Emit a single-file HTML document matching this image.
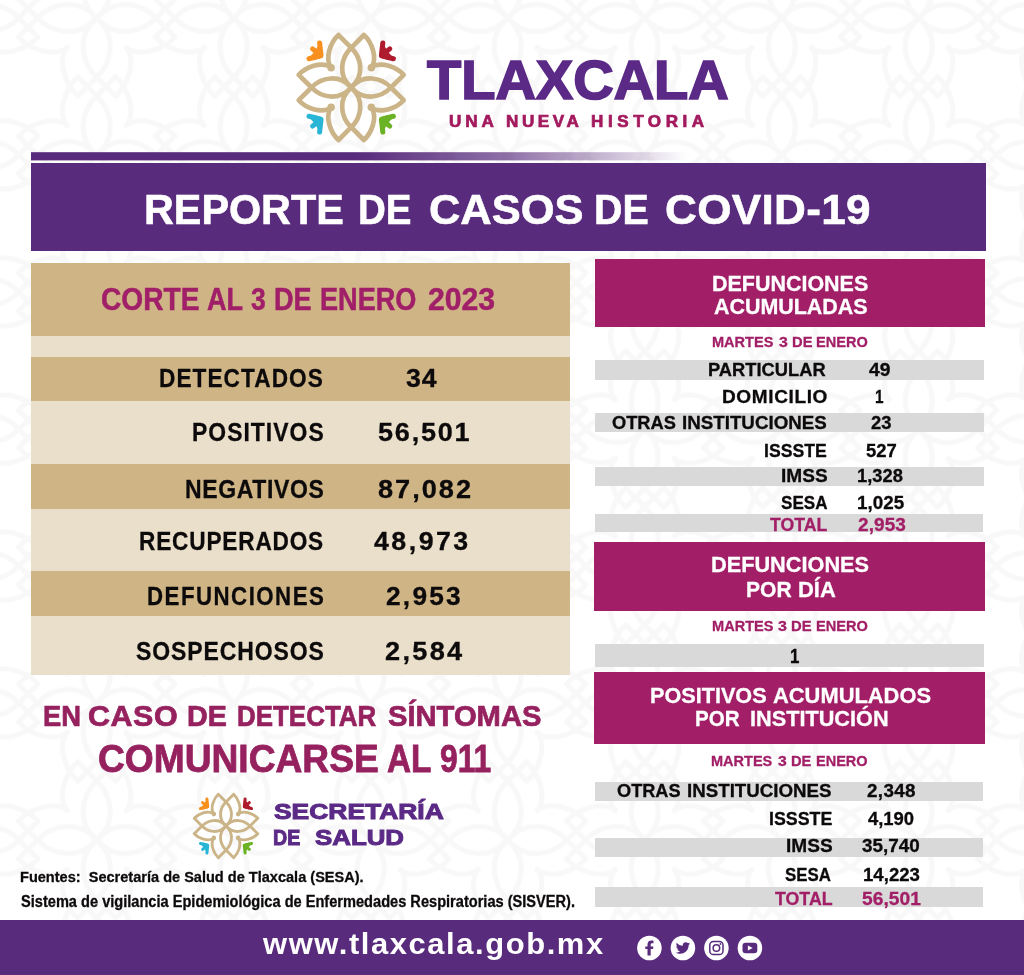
<!DOCTYPE html>
<html lang="es"><head><meta charset="utf-8"><title>Reporte de casos de COVID-19 - Tlaxcala</title>
<style>
html,body{margin:0;padding:0;}
body{width:1024px;height:975px;position:relative;overflow:hidden;background:#fff;font-family:"Liberation Sans", sans-serif;}
.r{position:absolute;}
.t{position:absolute;white-space:nowrap;font-weight:bold;transform-origin:0 0;display:block;}
svg{position:absolute;overflow:visible;}
</style></head><body>
<svg width="1024" height="975" viewBox="0 0 1024 975" style="left:0;top:0">
<defs><pattern id="bgp" patternUnits="userSpaceOnUse" x="28.20" y="-50.50" width="137.0" height="137.0">
<g transform="translate(68.50,68.50) scale(1.49)">
<g fill="none" stroke="#f8f8f8" stroke-width="3.4" stroke-linejoin="miter" stroke-linecap="round">
<path transform="rotate(0)" d="M-12.7,-52.5 L0,-39.7 C10,-30.2 14,-12 0,0 M-12.7,-52.5 C-20,-46 -27,-30 -20.1,-19.7"/>
<path transform="rotate(0) scale(-1,1)" d="M-12.7,-52.5 L0,-39.7 C10,-30.2 14,-12 0,0 M-12.7,-52.5 C-20,-46 -27,-30 -20.1,-19.7"/>
<path transform="rotate(90)" d="M-12.7,-52.5 L0,-39.7 C10,-30.2 14,-12 0,0 M-12.7,-52.5 C-20,-46 -27,-30 -20.1,-19.7"/>
<path transform="rotate(90) scale(-1,1)" d="M-12.7,-52.5 L0,-39.7 C10,-30.2 14,-12 0,0 M-12.7,-52.5 C-20,-46 -27,-30 -20.1,-19.7"/>
<path transform="rotate(180)" d="M-12.7,-52.5 L0,-39.7 C10,-30.2 14,-12 0,0 M-12.7,-52.5 C-20,-46 -27,-30 -20.1,-19.7"/>
<path transform="rotate(180) scale(-1,1)" d="M-12.7,-52.5 L0,-39.7 C10,-30.2 14,-12 0,0 M-12.7,-52.5 C-20,-46 -27,-30 -20.1,-19.7"/>
<path transform="rotate(270)" d="M-12.7,-52.5 L0,-39.7 C10,-30.2 14,-12 0,0 M-12.7,-52.5 C-20,-46 -27,-30 -20.1,-19.7"/>
<path transform="rotate(270) scale(-1,1)" d="M-12.7,-52.5 L0,-39.7 C10,-30.2 14,-12 0,0 M-12.7,-52.5 C-20,-46 -27,-30 -20.1,-19.7"/>
</g>
</g>
<g transform="translate(-68.50,68.50) scale(1.49)">
<g fill="none" stroke="#f8f8f8" stroke-width="3.4" stroke-linejoin="miter" stroke-linecap="round">
<path transform="rotate(0)" d="M-12.7,-52.5 L0,-39.7 C10,-30.2 14,-12 0,0 M-12.7,-52.5 C-20,-46 -27,-30 -20.1,-19.7"/>
<path transform="rotate(0) scale(-1,1)" d="M-12.7,-52.5 L0,-39.7 C10,-30.2 14,-12 0,0 M-12.7,-52.5 C-20,-46 -27,-30 -20.1,-19.7"/>
<path transform="rotate(90)" d="M-12.7,-52.5 L0,-39.7 C10,-30.2 14,-12 0,0 M-12.7,-52.5 C-20,-46 -27,-30 -20.1,-19.7"/>
<path transform="rotate(90) scale(-1,1)" d="M-12.7,-52.5 L0,-39.7 C10,-30.2 14,-12 0,0 M-12.7,-52.5 C-20,-46 -27,-30 -20.1,-19.7"/>
<path transform="rotate(180)" d="M-12.7,-52.5 L0,-39.7 C10,-30.2 14,-12 0,0 M-12.7,-52.5 C-20,-46 -27,-30 -20.1,-19.7"/>
<path transform="rotate(180) scale(-1,1)" d="M-12.7,-52.5 L0,-39.7 C10,-30.2 14,-12 0,0 M-12.7,-52.5 C-20,-46 -27,-30 -20.1,-19.7"/>
<path transform="rotate(270)" d="M-12.7,-52.5 L0,-39.7 C10,-30.2 14,-12 0,0 M-12.7,-52.5 C-20,-46 -27,-30 -20.1,-19.7"/>
<path transform="rotate(270) scale(-1,1)" d="M-12.7,-52.5 L0,-39.7 C10,-30.2 14,-12 0,0 M-12.7,-52.5 C-20,-46 -27,-30 -20.1,-19.7"/>
</g>
</g>
<g transform="translate(205.50,68.50) scale(1.49)">
<g fill="none" stroke="#f8f8f8" stroke-width="3.4" stroke-linejoin="miter" stroke-linecap="round">
<path transform="rotate(0)" d="M-12.7,-52.5 L0,-39.7 C10,-30.2 14,-12 0,0 M-12.7,-52.5 C-20,-46 -27,-30 -20.1,-19.7"/>
<path transform="rotate(0) scale(-1,1)" d="M-12.7,-52.5 L0,-39.7 C10,-30.2 14,-12 0,0 M-12.7,-52.5 C-20,-46 -27,-30 -20.1,-19.7"/>
<path transform="rotate(90)" d="M-12.7,-52.5 L0,-39.7 C10,-30.2 14,-12 0,0 M-12.7,-52.5 C-20,-46 -27,-30 -20.1,-19.7"/>
<path transform="rotate(90) scale(-1,1)" d="M-12.7,-52.5 L0,-39.7 C10,-30.2 14,-12 0,0 M-12.7,-52.5 C-20,-46 -27,-30 -20.1,-19.7"/>
<path transform="rotate(180)" d="M-12.7,-52.5 L0,-39.7 C10,-30.2 14,-12 0,0 M-12.7,-52.5 C-20,-46 -27,-30 -20.1,-19.7"/>
<path transform="rotate(180) scale(-1,1)" d="M-12.7,-52.5 L0,-39.7 C10,-30.2 14,-12 0,0 M-12.7,-52.5 C-20,-46 -27,-30 -20.1,-19.7"/>
<path transform="rotate(270)" d="M-12.7,-52.5 L0,-39.7 C10,-30.2 14,-12 0,0 M-12.7,-52.5 C-20,-46 -27,-30 -20.1,-19.7"/>
<path transform="rotate(270) scale(-1,1)" d="M-12.7,-52.5 L0,-39.7 C10,-30.2 14,-12 0,0 M-12.7,-52.5 C-20,-46 -27,-30 -20.1,-19.7"/>
</g>
</g>
<g transform="translate(68.50,-68.50) scale(1.49)">
<g fill="none" stroke="#f8f8f8" stroke-width="3.4" stroke-linejoin="miter" stroke-linecap="round">
<path transform="rotate(0)" d="M-12.7,-52.5 L0,-39.7 C10,-30.2 14,-12 0,0 M-12.7,-52.5 C-20,-46 -27,-30 -20.1,-19.7"/>
<path transform="rotate(0) scale(-1,1)" d="M-12.7,-52.5 L0,-39.7 C10,-30.2 14,-12 0,0 M-12.7,-52.5 C-20,-46 -27,-30 -20.1,-19.7"/>
<path transform="rotate(90)" d="M-12.7,-52.5 L0,-39.7 C10,-30.2 14,-12 0,0 M-12.7,-52.5 C-20,-46 -27,-30 -20.1,-19.7"/>
<path transform="rotate(90) scale(-1,1)" d="M-12.7,-52.5 L0,-39.7 C10,-30.2 14,-12 0,0 M-12.7,-52.5 C-20,-46 -27,-30 -20.1,-19.7"/>
<path transform="rotate(180)" d="M-12.7,-52.5 L0,-39.7 C10,-30.2 14,-12 0,0 M-12.7,-52.5 C-20,-46 -27,-30 -20.1,-19.7"/>
<path transform="rotate(180) scale(-1,1)" d="M-12.7,-52.5 L0,-39.7 C10,-30.2 14,-12 0,0 M-12.7,-52.5 C-20,-46 -27,-30 -20.1,-19.7"/>
<path transform="rotate(270)" d="M-12.7,-52.5 L0,-39.7 C10,-30.2 14,-12 0,0 M-12.7,-52.5 C-20,-46 -27,-30 -20.1,-19.7"/>
<path transform="rotate(270) scale(-1,1)" d="M-12.7,-52.5 L0,-39.7 C10,-30.2 14,-12 0,0 M-12.7,-52.5 C-20,-46 -27,-30 -20.1,-19.7"/>
</g>
</g>
<g transform="translate(68.50,205.50) scale(1.49)">
<g fill="none" stroke="#f8f8f8" stroke-width="3.4" stroke-linejoin="miter" stroke-linecap="round">
<path transform="rotate(0)" d="M-12.7,-52.5 L0,-39.7 C10,-30.2 14,-12 0,0 M-12.7,-52.5 C-20,-46 -27,-30 -20.1,-19.7"/>
<path transform="rotate(0) scale(-1,1)" d="M-12.7,-52.5 L0,-39.7 C10,-30.2 14,-12 0,0 M-12.7,-52.5 C-20,-46 -27,-30 -20.1,-19.7"/>
<path transform="rotate(90)" d="M-12.7,-52.5 L0,-39.7 C10,-30.2 14,-12 0,0 M-12.7,-52.5 C-20,-46 -27,-30 -20.1,-19.7"/>
<path transform="rotate(90) scale(-1,1)" d="M-12.7,-52.5 L0,-39.7 C10,-30.2 14,-12 0,0 M-12.7,-52.5 C-20,-46 -27,-30 -20.1,-19.7"/>
<path transform="rotate(180)" d="M-12.7,-52.5 L0,-39.7 C10,-30.2 14,-12 0,0 M-12.7,-52.5 C-20,-46 -27,-30 -20.1,-19.7"/>
<path transform="rotate(180) scale(-1,1)" d="M-12.7,-52.5 L0,-39.7 C10,-30.2 14,-12 0,0 M-12.7,-52.5 C-20,-46 -27,-30 -20.1,-19.7"/>
<path transform="rotate(270)" d="M-12.7,-52.5 L0,-39.7 C10,-30.2 14,-12 0,0 M-12.7,-52.5 C-20,-46 -27,-30 -20.1,-19.7"/>
<path transform="rotate(270) scale(-1,1)" d="M-12.7,-52.5 L0,-39.7 C10,-30.2 14,-12 0,0 M-12.7,-52.5 C-20,-46 -27,-30 -20.1,-19.7"/>
</g>
</g>
</pattern></defs>
<rect x="0" y="0" width="1024" height="975" fill="url(#bgp)"/>
<defs><linearGradient id="lg" gradientUnits="userSpaceOnUse" x1="355" y1="0" x2="688" y2="0"><stop offset="0" stop-color="#582b7c"/><stop offset="0.45" stop-color="#582b7c" stop-opacity="0.68"/><stop offset="0.78" stop-color="#582b7c" stop-opacity="0.3"/><stop offset="1" stop-color="#582b7c" stop-opacity="0"/></linearGradient></defs>
<rect x="31" y="152.2" width="660" height="8.2" fill="url(#lg)"/>
<g transform="translate(351.2,87.5) scale(1.0)">
<g fill="none" stroke="#cbb487" stroke-width="4.7" stroke-linejoin="miter" stroke-linecap="round">
<path transform="rotate(0)" d="M-12.7,-52.5 L0,-39.7 C10,-30.2 14,-12 0,0 M-12.7,-52.5 C-20,-46 -27,-30 -20.1,-19.7"/>
<path transform="rotate(0) scale(-1,1)" d="M-12.7,-52.5 L0,-39.7 C10,-30.2 14,-12 0,0 M-12.7,-52.5 C-20,-46 -27,-30 -20.1,-19.7"/>
<path transform="rotate(90)" d="M-12.7,-52.5 L0,-39.7 C10,-30.2 14,-12 0,0 M-12.7,-52.5 C-20,-46 -27,-30 -20.1,-19.7"/>
<path transform="rotate(90) scale(-1,1)" d="M-12.7,-52.5 L0,-39.7 C10,-30.2 14,-12 0,0 M-12.7,-52.5 C-20,-46 -27,-30 -20.1,-19.7"/>
<path transform="rotate(180)" d="M-12.7,-52.5 L0,-39.7 C10,-30.2 14,-12 0,0 M-12.7,-52.5 C-20,-46 -27,-30 -20.1,-19.7"/>
<path transform="rotate(180) scale(-1,1)" d="M-12.7,-52.5 L0,-39.7 C10,-30.2 14,-12 0,0 M-12.7,-52.5 C-20,-46 -27,-30 -20.1,-19.7"/>
<path transform="rotate(270)" d="M-12.7,-52.5 L0,-39.7 C10,-30.2 14,-12 0,0 M-12.7,-52.5 C-20,-46 -27,-30 -20.1,-19.7"/>
<path transform="rotate(270) scale(-1,1)" d="M-12.7,-52.5 L0,-39.7 C10,-30.2 14,-12 0,0 M-12.7,-52.5 C-20,-46 -27,-30 -20.1,-19.7"/>
</g>
<circle cx="-20.1" cy="-19.7" r="3.8" fill="#cbb487"/>
<circle cx="20.1" cy="-19.7" r="3.8" fill="#cbb487"/>
<circle cx="-20.1" cy="19.7" r="3.8" fill="#cbb487"/>
<circle cx="20.1" cy="19.7" r="3.8" fill="#cbb487"/>
<g transform="scale(1,1)" stroke="#f7901e" fill="#f7901e" stroke-linecap="round" stroke-linejoin="round"><path d="M-30.2,-32.2 L-31.6,-44.6 M-31,-32.5 L-38.6,-38.6 M-30.6,-31.6 L-42.2,-28.8" stroke-width="5" fill="none"/><path d="M-29.4,-30.6 L-32.5,-41 L-35.5,-35.5 L-40.5,-30 L-38,-28.2 Z" stroke-width="2"/></g>
<g transform="scale(-1,1)" stroke="#ae1c2e" fill="#ae1c2e" stroke-linecap="round" stroke-linejoin="round"><path d="M-30.2,-32.2 L-31.6,-44.6 M-31,-32.5 L-38.6,-38.6 M-30.6,-31.6 L-42.2,-28.8" stroke-width="5" fill="none"/><path d="M-29.4,-30.6 L-32.5,-41 L-35.5,-35.5 L-40.5,-30 L-38,-28.2 Z" stroke-width="2"/></g>
<g transform="scale(1,-1)" stroke="#29b6d6" fill="#29b6d6" stroke-linecap="round" stroke-linejoin="round"><path d="M-30.2,-32.2 L-31.6,-44.6 M-31,-32.5 L-38.6,-38.6 M-30.6,-31.6 L-42.2,-28.8" stroke-width="5" fill="none"/><path d="M-29.4,-30.6 L-32.5,-41 L-35.5,-35.5 L-40.5,-30 L-38,-28.2 Z" stroke-width="2"/></g>
<g transform="scale(-1,-1)" stroke="#6bb324" fill="#6bb324" stroke-linecap="round" stroke-linejoin="round"><path d="M-30.2,-32.2 L-31.6,-44.6 M-31,-32.5 L-38.6,-38.6 M-30.6,-31.6 L-42.2,-28.8" stroke-width="5" fill="none"/><path d="M-29.4,-30.6 L-32.5,-41 L-35.5,-35.5 L-40.5,-30 L-38,-28.2 Z" stroke-width="2"/></g>
</g>
<g transform="translate(226,826) scale(0.605)">
<g fill="none" stroke="#cbb487" stroke-width="4.7" stroke-linejoin="miter" stroke-linecap="round">
<path transform="rotate(0)" d="M-12.7,-52.5 L0,-39.7 C10,-30.2 14,-12 0,0 M-12.7,-52.5 C-20,-46 -27,-30 -20.1,-19.7"/>
<path transform="rotate(0) scale(-1,1)" d="M-12.7,-52.5 L0,-39.7 C10,-30.2 14,-12 0,0 M-12.7,-52.5 C-20,-46 -27,-30 -20.1,-19.7"/>
<path transform="rotate(90)" d="M-12.7,-52.5 L0,-39.7 C10,-30.2 14,-12 0,0 M-12.7,-52.5 C-20,-46 -27,-30 -20.1,-19.7"/>
<path transform="rotate(90) scale(-1,1)" d="M-12.7,-52.5 L0,-39.7 C10,-30.2 14,-12 0,0 M-12.7,-52.5 C-20,-46 -27,-30 -20.1,-19.7"/>
<path transform="rotate(180)" d="M-12.7,-52.5 L0,-39.7 C10,-30.2 14,-12 0,0 M-12.7,-52.5 C-20,-46 -27,-30 -20.1,-19.7"/>
<path transform="rotate(180) scale(-1,1)" d="M-12.7,-52.5 L0,-39.7 C10,-30.2 14,-12 0,0 M-12.7,-52.5 C-20,-46 -27,-30 -20.1,-19.7"/>
<path transform="rotate(270)" d="M-12.7,-52.5 L0,-39.7 C10,-30.2 14,-12 0,0 M-12.7,-52.5 C-20,-46 -27,-30 -20.1,-19.7"/>
<path transform="rotate(270) scale(-1,1)" d="M-12.7,-52.5 L0,-39.7 C10,-30.2 14,-12 0,0 M-12.7,-52.5 C-20,-46 -27,-30 -20.1,-19.7"/>
</g>
<circle cx="-20.1" cy="-19.7" r="3.8" fill="#cbb487"/>
<circle cx="20.1" cy="-19.7" r="3.8" fill="#cbb487"/>
<circle cx="-20.1" cy="19.7" r="3.8" fill="#cbb487"/>
<circle cx="20.1" cy="19.7" r="3.8" fill="#cbb487"/>
<g transform="scale(1,1)" stroke="#f7901e" fill="#f7901e" stroke-linecap="round" stroke-linejoin="round"><path d="M-30.2,-32.2 L-31.6,-44.6 M-31,-32.5 L-38.6,-38.6 M-30.6,-31.6 L-42.2,-28.8" stroke-width="5" fill="none"/><path d="M-29.4,-30.6 L-32.5,-41 L-35.5,-35.5 L-40.5,-30 L-38,-28.2 Z" stroke-width="2"/></g>
<g transform="scale(-1,1)" stroke="#ae1c2e" fill="#ae1c2e" stroke-linecap="round" stroke-linejoin="round"><path d="M-30.2,-32.2 L-31.6,-44.6 M-31,-32.5 L-38.6,-38.6 M-30.6,-31.6 L-42.2,-28.8" stroke-width="5" fill="none"/><path d="M-29.4,-30.6 L-32.5,-41 L-35.5,-35.5 L-40.5,-30 L-38,-28.2 Z" stroke-width="2"/></g>
<g transform="scale(1,-1)" stroke="#29b6d6" fill="#29b6d6" stroke-linecap="round" stroke-linejoin="round"><path d="M-30.2,-32.2 L-31.6,-44.6 M-31,-32.5 L-38.6,-38.6 M-30.6,-31.6 L-42.2,-28.8" stroke-width="5" fill="none"/><path d="M-29.4,-30.6 L-32.5,-41 L-35.5,-35.5 L-40.5,-30 L-38,-28.2 Z" stroke-width="2"/></g>
<g transform="scale(-1,-1)" stroke="#6bb324" fill="#6bb324" stroke-linecap="round" stroke-linejoin="round"><path d="M-30.2,-32.2 L-31.6,-44.6 M-31,-32.5 L-38.6,-38.6 M-30.6,-31.6 L-42.2,-28.8" stroke-width="5" fill="none"/><path d="M-29.4,-30.6 L-32.5,-41 L-35.5,-35.5 L-40.5,-30 L-38,-28.2 Z" stroke-width="2"/></g>
</g>
</svg>
<div class="r" style="left:31px;top:163px;width:954.60px;height:88.40px;background:#582b7c"></div>
<div class="r" style="left:31px;top:263px;width:538.50px;height:72.50px;background:#cfb586"></div>
<div class="r" style="left:31px;top:335.5px;width:538.50px;height:21.50px;background:#eadfca"></div>
<div class="r" style="left:31px;top:357px;width:538.50px;height:44.40px;background:#cfb586"></div>
<div class="r" style="left:31px;top:401.4px;width:538.50px;height:62.60px;background:#eadfca"></div>
<div class="r" style="left:31px;top:464px;width:538.50px;height:44.50px;background:#cfb586"></div>
<div class="r" style="left:31px;top:508.5px;width:538.50px;height:62.30px;background:#eadfca"></div>
<div class="r" style="left:31px;top:570.8px;width:538.50px;height:44.80px;background:#cfb586"></div>
<div class="r" style="left:31px;top:615.6px;width:538.50px;height:59.40px;background:#eadfca"></div>
<div class="r" style="left:595px;top:258.8px;width:390.40px;height:67.80px;background:#a21f67"></div>
<div class="r" style="left:595.2px;top:360.4px;width:389.10px;height:19.30px;background:#d9d9d9"></div>
<div class="r" style="left:595.2px;top:413px;width:389.10px;height:19.40px;background:#d9d9d9"></div>
<div class="r" style="left:595.2px;top:466.8px;width:389.10px;height:18.90px;background:#d9d9d9"></div>
<div class="r" style="left:595.2px;top:513.5px;width:388.20px;height:18.70px;background:#d9d9d9"></div>
<div class="r" style="left:593.6px;top:541.5px;width:391.80px;height:69.70px;background:#a21f67"></div>
<div class="r" style="left:595.2px;top:644.4px;width:388.80px;height:22.60px;background:#d9d9d9"></div>
<div class="r" style="left:593.6px;top:671.8px;width:391.80px;height:72.50px;background:#a21f67"></div>
<div class="r" style="left:595.2px;top:781.9px;width:388.20px;height:18.70px;background:#d9d9d9"></div>
<div class="r" style="left:595.2px;top:837.5px;width:388.20px;height:19.50px;background:#d9d9d9"></div>
<div class="r" style="left:595.2px;top:887.3px;width:388.20px;height:20.00px;background:#d9d9d9"></div>
<div class="r" style="left:0px;top:919.5px;width:1024.00px;height:55.50px;background:#582b7c"></div>
<span class="t" style="left:426.95px;top:53.23px;font-size:54.71px;line-height:54.71px;color:#5b2a86;transform:scaleX(1.0236);-webkit-text-stroke:1.7px #5b2a86;">TLAXCALA</span>
<div class="g"><span class="t" style="left:449.05px;top:113.14px;font-size:16.43px;line-height:16.43px;color:#a31a5e;transform:scaleX(1.0400);letter-spacing:3.787px;-webkit-text-stroke:0.7px #a31a5e;">UNA</span> <span class="t" style="left:506.01px;top:113.14px;font-size:16.43px;line-height:16.43px;color:#a31a5e;transform:scaleX(1.0400);letter-spacing:3.419px;-webkit-text-stroke:0.7px #a31a5e;">NUEVA</span> <span class="t" style="left:591.31px;top:113.14px;font-size:16.43px;line-height:16.43px;color:#a31a5e;transform:scaleX(1.0400);letter-spacing:4.378px;-webkit-text-stroke:0.7px #a31a5e;">HISTORIA</span></div>
<div class="g"><span class="t" style="left:143.65px;top:188.88px;font-size:42.43px;line-height:42.43px;color:#ffffff;transform:scaleX(0.9742);-webkit-text-stroke:0.6px #ffffff;">REPORTE</span> <span class="t" style="left:358.38px;top:188.88px;font-size:42.43px;line-height:42.43px;color:#ffffff;transform:scaleX(0.9079);-webkit-text-stroke:0.6px #ffffff;">DE</span> <span class="t" style="left:429.08px;top:188.88px;font-size:42.43px;line-height:42.43px;color:#ffffff;transform:scaleX(1.0241);-webkit-text-stroke:0.6px #ffffff;">CASOS</span> <span class="t" style="left:594.24px;top:188.88px;font-size:42.43px;line-height:42.43px;color:#ffffff;transform:scaleX(0.9276);-webkit-text-stroke:0.6px #ffffff;">DE</span> <span class="t" style="left:665.06px;top:188.88px;font-size:42.43px;line-height:42.43px;color:#ffffff;transform:scaleX(1.0400);letter-spacing:0.293px;-webkit-text-stroke:0.6px #ffffff;">COVID-19</span></div>
<div class="g"><span class="t" style="left:101.33px;top:284.85px;font-size:30.71px;line-height:30.71px;color:#a01f68;transform:scaleX(0.9162);-webkit-text-stroke:0.5px #a01f68;">CORTE</span> <span class="t" style="left:207.05px;top:284.85px;font-size:30.71px;line-height:30.71px;color:#a01f68;transform:scaleX(0.8812);-webkit-text-stroke:0.5px #a01f68;">AL</span> <span class="t" style="left:251.15px;top:284.85px;font-size:30.71px;line-height:30.71px;color:#a01f68;transform:scaleX(0.8625);-webkit-text-stroke:0.5px #a01f68;">3</span> <span class="t" style="left:273.99px;top:284.85px;font-size:30.71px;line-height:30.71px;color:#a01f68;transform:scaleX(0.8812);-webkit-text-stroke:0.5px #a01f68;">DE</span> <span class="t" style="left:320.19px;top:284.85px;font-size:30.71px;line-height:30.71px;color:#a01f68;transform:scaleX(0.8824);-webkit-text-stroke:0.5px #a01f68;">ENERO</span> <span class="t" style="left:427.57px;top:284.85px;font-size:30.71px;line-height:30.71px;color:#a01f68;transform:scaleX(0.9830);-webkit-text-stroke:0.5px #a01f68;">2023</span></div>
<span class="t" style="left:159.47px;top:365.78px;font-size:25.71px;line-height:25.71px;color:#0d0a0b;transform:scaleX(0.8800);letter-spacing:1.220px;-webkit-text-stroke:0.3px #0d0a0b;">DETECTADOS</span>
<span class="t" style="left:406.45px;top:365.78px;font-size:25.71px;line-height:25.71px;color:#0d0a0b;transform:scaleX(1.0400);letter-spacing:0.897px;-webkit-text-stroke:0.3px #0d0a0b;">34</span>
<span class="t" style="left:191.77px;top:419.24px;font-size:26.00px;line-height:26.00px;color:#0d0a0b;transform:scaleX(0.8800);letter-spacing:1.187px;-webkit-text-stroke:0.3px #0d0a0b;">POSITIVOS</span>
<span class="t" style="left:377.65px;top:419.24px;font-size:26.00px;line-height:26.00px;color:#0d0a0b;transform:scaleX(1.0400);letter-spacing:1.707px;-webkit-text-stroke:0.3px #0d0a0b;">56,501</span>
<span class="t" style="left:184.77px;top:475.52px;font-size:26.14px;line-height:26.14px;color:#0d0a0b;transform:scaleX(0.8800);letter-spacing:0.719px;-webkit-text-stroke:0.3px #0d0a0b;">NEGATIVOS</span>
<span class="t" style="left:377.65px;top:475.52px;font-size:26.14px;line-height:26.14px;color:#0d0a0b;transform:scaleX(1.0400);letter-spacing:1.913px;-webkit-text-stroke:0.3px #0d0a0b;">87,082</span>
<span class="t" style="left:139.07px;top:528.68px;font-size:25.71px;line-height:25.71px;color:#0d0a0b;transform:scaleX(0.8800);letter-spacing:0.939px;-webkit-text-stroke:0.3px #0d0a0b;">RECUPERADOS</span>
<span class="t" style="left:373.75px;top:528.68px;font-size:25.71px;line-height:25.71px;color:#0d0a0b;transform:scaleX(1.0400);letter-spacing:2.394px;-webkit-text-stroke:0.3px #0d0a0b;">48,973</span>
<span class="t" style="left:147.17px;top:583.85px;font-size:25.29px;line-height:25.29px;color:#0d0a0b;transform:scaleX(0.8800);letter-spacing:1.694px;-webkit-text-stroke:0.3px #0d0a0b;">DEFUNCIONES</span>
<span class="t" style="left:386.05px;top:583.85px;font-size:25.29px;line-height:25.29px;color:#0d0a0b;transform:scaleX(1.0400);letter-spacing:2.139px;-webkit-text-stroke:0.3px #0d0a0b;">2,953</span>
<span class="t" style="left:135.65px;top:638.32px;font-size:26.14px;line-height:26.14px;color:#0d0a0b;transform:scaleX(0.8800);letter-spacing:1.025px;-webkit-text-stroke:0.3px #0d0a0b;">SOSPECHOSOS</span>
<span class="t" style="left:384.65px;top:638.32px;font-size:26.14px;line-height:26.14px;color:#0d0a0b;transform:scaleX(1.0400);letter-spacing:2.216px;-webkit-text-stroke:0.3px #0d0a0b;">2,584</span>
<div class="g"><span class="t" style="left:42.72px;top:701.16px;font-size:29.29px;line-height:29.29px;color:#96215f;transform:scaleX(0.9346);-webkit-text-stroke:0.7px #96215f;">EN</span> <span class="t" style="left:87.91px;top:701.16px;font-size:29.29px;line-height:29.29px;color:#96215f;transform:scaleX(1.0400);letter-spacing:0.545px;-webkit-text-stroke:0.7px #96215f;">CASO</span> <span class="t" style="left:186.57px;top:701.16px;font-size:29.29px;line-height:29.29px;color:#96215f;transform:scaleX(0.9787);-webkit-text-stroke:0.7px #96215f;">DE</span> <span class="t" style="left:237.26px;top:701.16px;font-size:29.29px;line-height:29.29px;color:#96215f;transform:scaleX(0.8858);-webkit-text-stroke:0.7px #96215f;">DETECTAR</span> <span class="t" style="left:387.85px;top:701.16px;font-size:29.29px;line-height:29.29px;color:#96215f;transform:scaleX(0.9960);-webkit-text-stroke:0.7px #96215f;">SÍNTOMAS</span></div>
<div class="g"><span class="t" style="left:98.32px;top:741.45px;font-size:37.86px;line-height:37.86px;color:#96215f;transform:scaleX(0.9813);-webkit-text-stroke:0.8px #96215f;">COMUNICARSE</span> <span class="t" style="left:387.20px;top:741.45px;font-size:37.86px;line-height:37.86px;color:#96215f;transform:scaleX(0.8798);-webkit-text-stroke:0.8px #96215f;">AL</span> <span class="t" style="left:439.88px;top:741.45px;font-size:37.86px;line-height:37.86px;color:#96215f;transform:scaleX(0.8400);-webkit-text-stroke:0.8px #96215f;">911</span></div>
<span class="t" style="left:273.50px;top:800.88px;font-size:22.00px;line-height:22.00px;color:#5b2a86;transform:scaleX(1.2008);-webkit-text-stroke:1.0px #5b2a86;">SECRETARÍA</span>
<div class="g"><span class="t" style="left:272.63px;top:827.19px;font-size:22.57px;line-height:22.57px;color:#5b2a86;transform:scaleX(0.8682);-webkit-text-stroke:1.0px #5b2a86;">DE</span> <span class="t" style="left:314.50px;top:827.19px;font-size:22.57px;line-height:22.57px;color:#5b2a86;transform:scaleX(1.1457);-webkit-text-stroke:1.0px #5b2a86;">SALUD</span></div>
<span class="t" style="left:20.00px;top:869.31px;font-size:15.29px;line-height:15.29px;color:#0d0a0b;transform:scaleX(0.9521);-webkit-text-stroke:0.3px #0d0a0b;white-space:pre;">Fuentes:  Secretaría de Salud de Tlaxcala (SESA).</span>
<span class="t" style="left:20.95px;top:893.97px;font-size:15.57px;line-height:15.57px;color:#0d0a0b;transform:scaleX(0.9379);-webkit-text-stroke:0.3px #0d0a0b;">Sistema de vigilancia Epidemiológica de Enfermedades Respiratorias (SISVER).</span>
<span class="t" style="left:263.34px;top:928.70px;font-size:29.76px;line-height:29.76px;color:#ffffff;transform:scaleX(1.0400);letter-spacing:1.512px;">www.tlaxcala.gob.mx</span>
<span class="t" style="left:712.19px;top:272.56px;font-size:22.43px;line-height:22.43px;color:#ffffff;transform:scaleX(0.9572);-webkit-text-stroke:0.3px #ffffff;">DEFUNCIONES</span>
<span class="t" style="left:714.35px;top:296.00px;font-size:22.50px;line-height:22.50px;color:#ffffff;transform:scaleX(0.9527);-webkit-text-stroke:0.3px #ffffff;">ACUMULADAS</span>
<div class="g"><span class="t" style="left:712.19px;top:334.33px;font-size:15.14px;line-height:15.14px;color:#a21f67;transform:scaleX(0.9606);-webkit-text-stroke:0.3px #a21f67;">MARTES</span> <span class="t" style="left:778.65px;top:334.33px;font-size:15.14px;line-height:15.14px;color:#a21f67;transform:scaleX(1.0500);-webkit-text-stroke:0.3px #a21f67;">3</span> <span class="t" style="left:791.78px;top:334.33px;font-size:15.14px;line-height:15.14px;color:#a21f67;transform:scaleX(0.9738);-webkit-text-stroke:0.3px #a21f67;">DE</span> <span class="t" style="left:816.39px;top:334.33px;font-size:15.14px;line-height:15.14px;color:#a21f67;transform:scaleX(0.9619);-webkit-text-stroke:0.3px #a21f67;">ENERO</span></div>
<span class="t" style="left:708.26px;top:361.43px;font-size:18.57px;line-height:18.57px;color:#0d0a0b;transform:scaleX(0.9860);-webkit-text-stroke:0.3px #0d0a0b;">PARTICULAR</span>
<span class="t" style="left:869.45px;top:361.43px;font-size:18.57px;line-height:18.57px;color:#0d0a0b;transform:scaleX(1.0400);letter-spacing:0.061px;-webkit-text-stroke:0.3px #0d0a0b;">49</span>
<span class="t" style="left:721.91px;top:387.67px;font-size:18.29px;line-height:18.29px;color:#0d0a0b;transform:scaleX(1.0400);letter-spacing:0.602px;-webkit-text-stroke:0.3px #0d0a0b;">DOMICILIO</span>
<span class="t" style="left:875.28px;top:387.67px;font-size:18.29px;line-height:18.29px;color:#0d0a0b;transform:scaleX(0.8400);-webkit-text-stroke:0.3px #0d0a0b;">1</span>
<div class="g"><span class="t" style="left:611.85px;top:414.43px;font-size:18.57px;line-height:18.57px;color:#0d0a0b;transform:scaleX(0.9832);-webkit-text-stroke:0.3px #0d0a0b;">OTRAS</span> <span class="t" style="left:681.64px;top:414.43px;font-size:18.57px;line-height:18.57px;color:#0d0a0b;transform:scaleX(1.0101);-webkit-text-stroke:0.3px #0d0a0b;">INSTITUCIONES</span></div>
<span class="t" style="left:870.65px;top:414.29px;font-size:18.86px;line-height:18.86px;color:#0d0a0b;transform:scaleX(0.9766);-webkit-text-stroke:0.3px #0d0a0b;">23</span>
<span class="t" style="left:763.83px;top:441.05px;font-size:19.14px;line-height:19.14px;color:#0d0a0b;transform:scaleX(0.9232);-webkit-text-stroke:0.3px #0d0a0b;">ISSSTE</span>
<span class="t" style="left:865.55px;top:441.05px;font-size:19.14px;line-height:19.14px;color:#0d0a0b;transform:scaleX(0.9657);-webkit-text-stroke:0.3px #0d0a0b;">527</span>
<span class="t" style="left:780.51px;top:467.45px;font-size:18.43px;line-height:18.43px;color:#0d0a0b;transform:scaleX(1.0361);-webkit-text-stroke:0.3px #0d0a0b;">IMSS</span>
<span class="t" style="left:856.75px;top:467.45px;font-size:18.43px;line-height:18.43px;color:#0d0a0b;transform:scaleX(0.9950);-webkit-text-stroke:0.3px #0d0a0b;">1,328</span>
<span class="t" style="left:780.75px;top:494.23px;font-size:18.57px;line-height:18.57px;color:#0d0a0b;transform:scaleX(0.9194);-webkit-text-stroke:0.3px #0d0a0b;">SESA</span>
<span class="t" style="left:856.74px;top:494.23px;font-size:18.57px;line-height:18.57px;color:#0d0a0b;transform:scaleX(1.0149);-webkit-text-stroke:0.3px #0d0a0b;">1,025</span>
<span class="t" style="left:769.85px;top:516.37px;font-size:18.29px;line-height:18.29px;color:#a21f67;transform:scaleX(0.9657);-webkit-text-stroke:0.3px #a21f67;">TOTAL</span>
<span class="t" style="left:857.75px;top:516.37px;font-size:18.29px;line-height:18.29px;color:#a21f67;transform:scaleX(1.0400);letter-spacing:0.079px;-webkit-text-stroke:0.3px #a21f67;">2,953</span>
<span class="t" style="left:711.18px;top:554.29px;font-size:22.29px;line-height:22.29px;color:#ffffff;transform:scaleX(0.9744);-webkit-text-stroke:0.3px #ffffff;">DEFUNCIONES</span>
<div class="g"><span class="t" style="left:745.81px;top:578.86px;font-size:22.43px;line-height:22.43px;color:#ffffff;transform:scaleX(0.9394);-webkit-text-stroke:0.3px #ffffff;">POR</span> <span class="t" style="left:798.47px;top:578.86px;font-size:22.43px;line-height:22.43px;color:#ffffff;transform:scaleX(0.9784);-webkit-text-stroke:0.3px #ffffff;">DÍA</span></div>
<div class="g"><span class="t" style="left:711.50px;top:618.11px;font-size:15.29px;line-height:15.29px;color:#a21f67;transform:scaleX(0.9530);-webkit-text-stroke:0.3px #a21f67;">MARTES</span> <span class="t" style="left:777.95px;top:618.11px;font-size:15.29px;line-height:15.29px;color:#a21f67;transform:scaleX(1.0500);-webkit-text-stroke:0.3px #a21f67;">3</span> <span class="t" style="left:791.08px;top:618.11px;font-size:15.29px;line-height:15.29px;color:#a21f67;transform:scaleX(0.9688);-webkit-text-stroke:0.3px #a21f67;">DE</span> <span class="t" style="left:815.70px;top:618.11px;font-size:15.29px;line-height:15.29px;color:#a21f67;transform:scaleX(0.9548);-webkit-text-stroke:0.3px #a21f67;">ENERO</span></div>
<span class="t" style="left:790.16px;top:645.90px;font-size:20.14px;line-height:20.14px;color:#0d0a0b;transform:scaleX(0.8400);-webkit-text-stroke:0.3px #0d0a0b;">1</span>
<div class="g"><span class="t" style="left:650.30px;top:684.42px;font-size:22.71px;line-height:22.71px;color:#ffffff;transform:scaleX(0.9527);-webkit-text-stroke:0.3px #ffffff;">POSITIVOS</span> <span class="t" style="left:773.45px;top:684.42px;font-size:22.71px;line-height:22.71px;color:#ffffff;transform:scaleX(0.9639);-webkit-text-stroke:0.3px #ffffff;">ACUMULADOS</span></div>
<div class="g"><span class="t" style="left:694.93px;top:707.79px;font-size:22.29px;line-height:22.29px;color:#ffffff;transform:scaleX(0.9243);-webkit-text-stroke:0.3px #ffffff;">POR</span> <span class="t" style="left:749.98px;top:707.79px;font-size:22.29px;line-height:22.29px;color:#ffffff;transform:scaleX(0.9738);-webkit-text-stroke:0.3px #ffffff;">INSTITUCIÓN</span></div>
<div class="g"><span class="t" style="left:711.48px;top:752.55px;font-size:15.00px;line-height:15.00px;color:#a21f67;transform:scaleX(0.9675);-webkit-text-stroke:0.3px #a21f67;">MARTES</span> <span class="t" style="left:777.95px;top:752.55px;font-size:15.00px;line-height:15.00px;color:#a21f67;transform:scaleX(1.0500);-webkit-text-stroke:0.3px #a21f67;">3</span> <span class="t" style="left:791.07px;top:752.55px;font-size:15.00px;line-height:15.00px;color:#a21f67;transform:scaleX(0.9782);-webkit-text-stroke:0.3px #a21f67;">DE</span> <span class="t" style="left:815.68px;top:752.55px;font-size:15.00px;line-height:15.00px;color:#a21f67;transform:scaleX(0.9682);-webkit-text-stroke:0.3px #a21f67;">ENERO</span></div>
<div class="g"><span class="t" style="left:616.85px;top:782.19px;font-size:18.14px;line-height:18.14px;color:#0d0a0b;transform:scaleX(1.0024);-webkit-text-stroke:0.3px #0d0a0b;">OTRAS</span> <span class="t" style="left:686.62px;top:782.19px;font-size:18.14px;line-height:18.14px;color:#0d0a0b;transform:scaleX(1.0325);-webkit-text-stroke:0.3px #0d0a0b;">INSTITUCIONES</span></div>
<span class="t" style="left:866.75px;top:782.19px;font-size:18.14px;line-height:18.14px;color:#0d0a0b;transform:scaleX(1.0400);letter-spacing:0.340px;-webkit-text-stroke:0.3px #0d0a0b;">2,348</span>
<span class="t" style="left:768.89px;top:810.03px;font-size:18.57px;line-height:18.57px;color:#0d0a0b;transform:scaleX(0.9592);-webkit-text-stroke:0.3px #0d0a0b;">ISSSTE</span>
<span class="t" style="left:868.25px;top:810.03px;font-size:18.57px;line-height:18.57px;color:#0d0a0b;transform:scaleX(0.9929);-webkit-text-stroke:0.3px #0d0a0b;">4,190</span>
<span class="t" style="left:785.62px;top:837.33px;font-size:18.57px;line-height:18.57px;color:#0d0a0b;transform:scaleX(1.0272);-webkit-text-stroke:0.3px #0d0a0b;">IMSS</span>
<span class="t" style="left:862.45px;top:837.33px;font-size:18.57px;line-height:18.57px;color:#0d0a0b;transform:scaleX(1.0168);-webkit-text-stroke:0.3px #0d0a0b;">35,740</span>
<span class="t" style="left:785.45px;top:865.71px;font-size:18.71px;line-height:18.71px;color:#0d0a0b;transform:scaleX(0.9023);-webkit-text-stroke:0.3px #0d0a0b;">SESA</span>
<span class="t" style="left:862.55px;top:865.71px;font-size:18.71px;line-height:18.71px;color:#0d0a0b;transform:scaleX(0.9964);-webkit-text-stroke:0.3px #0d0a0b;">14,223</span>
<span class="t" style="left:774.55px;top:890.15px;font-size:18.43px;line-height:18.43px;color:#a21f67;transform:scaleX(0.9647);-webkit-text-stroke:0.3px #a21f67;">TOTAL</span>
<span class="t" style="left:862.45px;top:890.15px;font-size:18.43px;line-height:18.43px;color:#a21f67;transform:scaleX(1.0400);letter-spacing:0.067px;-webkit-text-stroke:0.3px #a21f67;">56,501</span>
<svg width="1024" height="975" viewBox="0 0 1024 975" style="left:0;top:0">
<circle cx="649.4" cy="948" r="12.3" fill="#fff"/>
<circle cx="682.9" cy="948" r="12.3" fill="#fff"/>
<circle cx="716.4" cy="948" r="12.3" fill="#fff"/>
<circle cx="749.9" cy="948" r="12.3" fill="#fff"/>
<path transform="translate(649.4,948)" fill="#582b7c" d="M-1.9,7.6 L-1.9,1.1 L-4.1,1.1 L-4.1,-1.6 L-1.9,-1.6 L-1.9,-3.5 C-1.9,-6 -0.4,-7.4 2,-7.4 C3,-7.4 3.8,-7.3 4.1,-7.2 L4.1,-4.8 L2.8,-4.8 C1.6,-4.8 1.3,-4.2 1.3,-3.3 L1.3,-1.6 L4,-1.6 L3.6,1.1 L1.3,1.1 L1.3,7.6 Z"/>
<path transform="translate(682.9,948) scale(0.72)" fill="#582b7c" d="M10,-6.2 C9.3,-5.9 8.5,-5.7 7.7,-5.6 C8.5,-6.1 9.2,-6.9 9.5,-7.8 C8.7,-7.3 7.8,-7 6.9,-6.8 C6.2,-7.6 5.1,-8.1 3.9,-8.1 C1.6,-8.1 -0.2,-6.3 -0.2,-4 C-0.2,-3.7 -0.2,-3.4 -0.1,-3.1 C-3.5,-3.2 -6.5,-4.9 -8.6,-7.4 C-8.9,-6.8 -9.1,-6.1 -9.1,-5.3 C-9.1,-3.9 -8.4,-2.6 -7.3,-1.9 C-8,-1.9 -8.6,-2.1 -9.2,-2.4 C-9.2,-0.4 -7.8,1.3 -5.9,1.6 C-6.5,1.8 -7.1,1.8 -7.7,1.7 C-7.2,3.3 -5.7,4.5 -3.9,4.5 C-5.5,5.8 -7.7,6.4 -10,6.2 C-8.2,7.4 -6,8.1 -3.7,8.1 C3.9,8.1 8,1.8 8,-3.7 L8,-4.2 C8.8,-4.8 9.5,-5.5 10,-6.2 Z"/>
<g transform="translate(716.4,948)" fill="none" stroke="#582b7c"><rect x="-6.6" y="-6.6" width="13.2" height="13.2" rx="3.6" stroke-width="1.5"/><circle r="3.3" stroke-width="1.5"/><circle cx="4" cy="-4" r="0.9" fill="#582b7c" stroke="none"/></g>
<g transform="translate(749.9,948)"><rect x="-7.4" y="-5.2" width="14.8" height="10.4" rx="3" fill="#582b7c"/><path d="M-2,-2.6 L2.8,0 L-2,2.6 Z" fill="#fff"/></g>
</svg>
</body></html>
